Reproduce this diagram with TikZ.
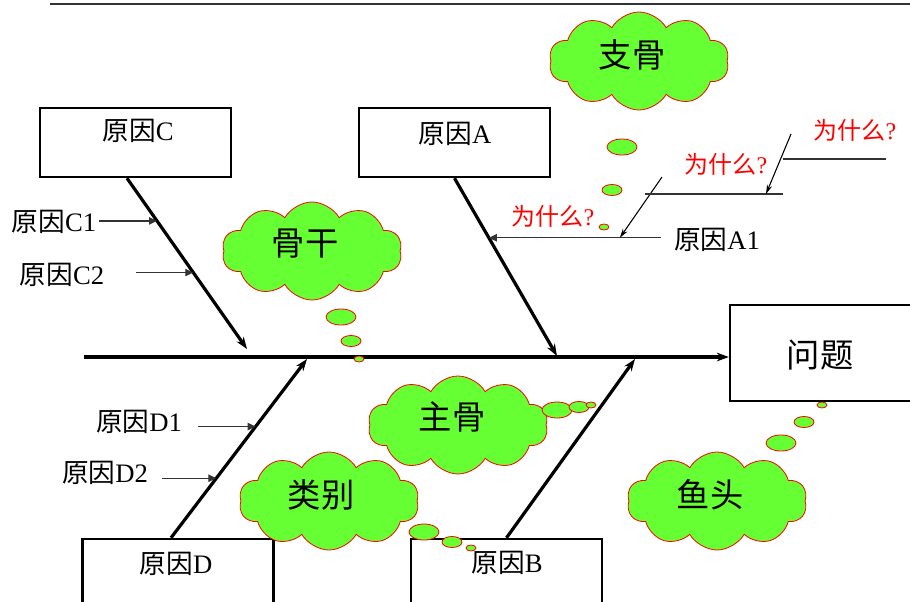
\documentclass[tikz,border=0pt]{standalone}
\usepackage{fontspec}
\setmainfont{Liberation Serif}
\newfontfamily\cjk{Noto Sans CJK SC}
\usetikzlibrary{calc}
\usetikzlibrary{arrows.meta}
\usetikzlibrary{shapes.geometric}
\usetikzlibrary{shapes.symbols}
\definecolor{puffgreen}{RGB}{102,255,51}
\newcommand{\zh}[1]{{\cjk #1}}
\tikzset{
    causebox/.style={draw,line width=1.8pt,inner sep=0,minimum width=143.25pt,minimum height=51.75pt},
    lbl/.style={inner sep=2pt,font=\fontsize{20}{24}\selectfont},
    why/.style={inner sep=2pt,text=red,font=\fontsize{18}{22}\selectfont},
    puffword/.style={inner sep=0,font=\fontsize{25}{30}\selectfont},
    bone/.style={line width=2.4pt,-{Stealth[length=9pt,width=6.5pt]}},
    sub/.style={draw=black!80,line width=1pt,-{Triangle[length=6pt,width=5.5pt]}},
    whyarrow/.style={line width=0.8pt,-{Stealth[length=7pt,width=4pt]}},
    whyline/.style={draw=black!80,line width=1pt},
    puff/.style={cloud,cloud puffs=10,cloud puff arc=120,cloud ignores aspect,draw=red,fill=puffgreen,line width=0.6pt,inner sep=0,minimum width=135pt,minimum height=73.5pt},
    bubble/.style={ellipse,draw=red,fill=puffgreen,line width=0.6pt,inner sep=0},
    bubbleL/.style={bubble,minimum width=22.5pt,minimum height=12pt},
    bubbleM/.style={bubble,minimum width=15pt,minimum height=8.25pt},
    bubbleS/.style={bubble,minimum width=7.5pt,minimum height=4.5pt}
}
\begin{document}
\begin{tikzpicture}[x=0.75pt,y=-0.75pt]
    \clip (0,0) rectangle (910,601);
    % Top rule
    \draw[black!80,line width=1pt] (50,4) -- (910,4);
    % Boxes
    \node[causebox] (boxC) at (135.5,142.5) {};
    \node[lbl] (txtC) at (138,131) {\zh{原因}C};
    \node[causebox] (boxA) at (454.5,142.5) {};
    \node[lbl] (txtA) at (455,134) {\zh{原因}A};
    \node[causebox] (boxD) at (178,573.5) {};
    \node[lbl] (txtD) at (176,564) {\zh{原因}D};
    \node[causebox] (boxB) at (506.5,573.5) {};
    \node[lbl] (txtB) at (507,563) {\zh{原因}B};
    \node[causebox,minimum width=172.5pt,minimum height=72pt] (problem) at (845,353) {};
    \node[puffword] (txtProblem) at (820,355) {\zh{问题}};
    % Spine and bones
    \coordinate (tail) at (84,357);
    \draw[bone] (tail) -- (tail -| problem.west);
    \coordinate (sC) at ($(boxC.south)+(-8.5,0)$);
    \coordinate (tC) at (247,349);
    \draw[bone] (sC) -- (tC);
    \coordinate (sA) at (boxA.south);
    \coordinate (tA) at (557,356);
    \draw[bone] (sA) -- (tA);
    \coordinate (sD) at ($(boxD.north)+(-7,0)$);
    \coordinate (tD) at (307,359);
    \draw[bone] (sD) -- (tD);
    \coordinate (sB) at (boxB.north);
    \coordinate (tB) at (635,359);
    \draw[bone] (sB) -- (tB);
    % Sub causes
    \node[lbl] (c1) at (54,222) {\zh{原因}C1};
    \coordinate (c1tip) at ($(sC)!0.25!(tC)$);
    \draw[sub] (c1.east |- c1tip) -- (c1tip);
    \node[lbl] (c2) at (62,275) {\zh{原因}C2};
    \coordinate (c2tip) at ($(sC)!0.5523!(tC)$);
    \draw[sub] ($(c2tip)+(-57,0)$) -- (c2tip);
    \node[lbl] (d1) at (139,422) {\zh{原因}D1};
    \coordinate (d1tip) at ($(sD)!0.6222!(tD)$);
    \draw[sub] ($(d1tip)+(-58,0)$) -- (d1tip);
    \node[lbl] (d2) at (105,473) {\zh{原因}D2};
    \coordinate (d2tip) at ($(sD)!0.3333!(tD)$);
    \draw[sub] ($(d2tip)+(-54,0)$) -- (d2tip);
    \node[lbl] (a1) at (717,240) {\zh{原因}A1};
    \coordinate (a1tip) at ($(sA)!0.335!(tA)$);
    \draw[sub] ($(a1tip)+(172,0)$) -- (a1tip);
    % Why chain
    \node[why] (why1) at (553,216) {\zh{为什么}?};
    \coordinate (w1tail) at (662,177);
    \coordinate (w1tip) at ($(a1tip)+(131,0)$);
    \draw[whyarrow] (w1tail) -- (w1tip);
    \node[why] (why2) at (726,164) {\zh{为什么}?};
    \coordinate (l2a) at (645,194);
    \coordinate (l2b) at (783,194);
    \draw[whyline] (l2a) -- (l2b);
    \coordinate (w2tail) at (791,134);
    \draw[whyarrow] (w2tail) -- ($(l2b)+(-17,0)$);
    \node[why] (why3) at (855,130) {\zh{为什么}?};
    \coordinate (l3a) at (783,159);
    \coordinate (l3b) at (886,159);
    \draw[whyline] (l3a) -- (l3b);
    % Clouds
    \node[puff] (cloudBranch) at (639,61) {};
    \node[puffword] at (632,55) {\zh{支骨}};
    \node[bubbleL] (branchL) at (622,147) {};
    \node[bubbleM] (branchM) at (612,190) {};
    \node[bubbleS] (branchS) at (604,227) {};
    %
    \node[puff] (cloudTrunk) at (312,251) {};
    \node[puffword] at (305,244) {\zh{骨干}};
    \node[bubbleL] (trunkL) at (341,317) {};
    \node[bubbleM] (trunkM) at (351,341) {};
    \node[bubbleS] (trunkS) at (359,359) {};
    %
    \node[puff] (cloudMain) at (458,425) {};
    \node[puffword] at (452,417) {\zh{主骨}};
    \node[bubbleL] (mainL) at (557,410) {};
    \node[bubbleM] (mainM) at (579,407) {};
    \node[bubbleS] (mainS) at (591,405) {};
    %
    \node[puff] (cloudKind) at (329,501) {};
    \node[puffword] at (321,495) {\zh{类别}};
    \node[bubbleL] (kindL) at (424,532) {};
    \node[bubbleM] (kindM) at (452,542) {};
    \node[bubbleS] (kindS) at (471,548) {};
    %
    \node[puff] (cloudHead) at (717,501) {};
    \node[puffword] at (710,495) {\zh{鱼头}};
    \node[bubbleL] (headL) at (781,443) {};
    \node[bubbleM] (headM) at (804,422) {};
    \node[bubbleS] (headS) at (822,405) {};
\end{tikzpicture}
\end{document}
